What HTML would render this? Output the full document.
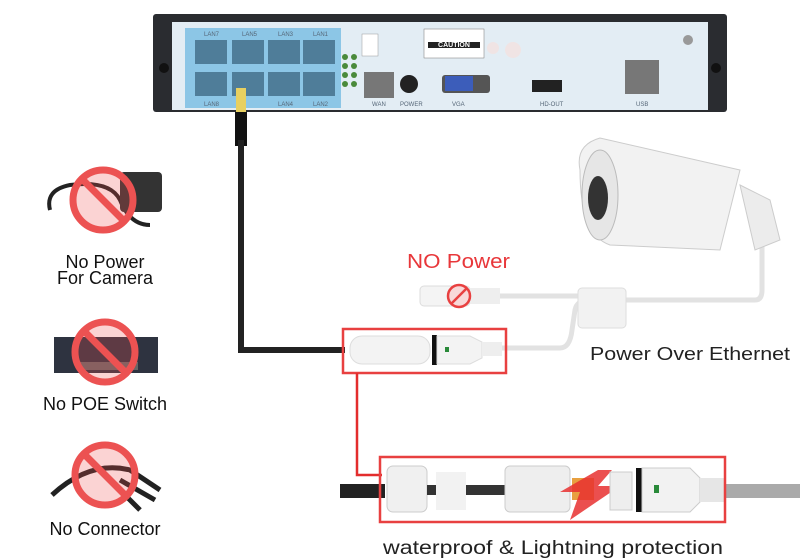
<!DOCTYPE html>
<html><head><meta charset="utf-8"><style>
html,body{margin:0;padding:0;background:#fff;}
svg{display:block;font-family:"Liberation Sans",sans-serif;}
</style></head><body>
<svg width="800" height="560" viewBox="0 0 800 560" xmlns="http://www.w3.org/2000/svg">
<!-- NVR -->
<rect x="153" y="14" width="574" height="98" rx="3" fill="#2a2c30"/>
<rect x="172" y="22" width="536" height="88" fill="#e3edf4"/>
<circle cx="164" cy="68" r="5" fill="#111"/><circle cx="716" cy="68" r="5" fill="#111"/>
<rect x="185" y="28" width="156" height="80" fill="#8cc6e6"/>
<g fill="#4f7d99">
<rect x="195" y="40" width="32" height="24"/><rect x="232" y="40" width="32" height="24"/>
<rect x="268" y="40" width="32" height="24"/><rect x="303" y="40" width="32" height="24"/>
<rect x="195" y="72" width="32" height="24"/><rect x="232" y="72" width="32" height="24"/>
<rect x="268" y="72" width="32" height="24"/><rect x="303" y="72" width="32" height="24"/>
</g>
<g font-size="6" fill="#567">
<text x="204" y="36">LAN7</text><text x="242" y="36">LAN5</text><text x="278" y="36">LAN3</text><text x="313" y="36">LAN1</text>
<text x="204" y="106">LAN8</text><text x="278" y="106">LAN4</text><text x="313" y="106">LAN2</text>
<text x="372" y="106">WAN</text><text x="400" y="106">POWER</text><text x="452" y="106">VGA</text>
<text x="540" y="106">HD-OUT</text><text x="636" y="106">USB</text>
</g>
<g fill="#4a8a3a"><circle cx="345" cy="57" r="3"/><circle cx="354" cy="57" r="3"/><circle cx="345" cy="66" r="3"/><circle cx="354" cy="66" r="3"/><circle cx="345" cy="75" r="3"/><circle cx="354" cy="75" r="3"/><circle cx="345" cy="84" r="3"/><circle cx="354" cy="84" r="3"/></g>
<rect x="362" y="34" width="16" height="22" fill="#fff" stroke="#999" stroke-width="0.5"/>
<rect x="364" y="72" width="30" height="26" fill="#777"/>
<circle cx="409" cy="84" r="9" fill="#222"/>
<rect x="424" y="29" width="60" height="29" fill="#fff" stroke="#777" stroke-width="0.5"/>
<rect x="428" y="42" width="52" height="6" fill="#222"/>
<text x="454" y="47" font-size="7" fill="#fff" text-anchor="middle" font-weight="bold">CAUTION</text>
<circle cx="493" cy="48" r="6" fill="#f0e4e4"/><circle cx="513" cy="50" r="8" fill="#f0e4e4"/>
<rect x="442" y="75" width="48" height="18" rx="3" fill="#555"/><rect x="445" y="76" width="28" height="15" fill="#3c5dba"/>
<rect x="532" y="80" width="30" height="12" fill="#222"/>
<rect x="625" y="60" width="34" height="34" fill="#777"/>
<circle cx="688" cy="40" r="5" fill="#999"/>
<!-- black cable -->
<rect x="236" y="88" width="10" height="28" fill="#e8d060"/>
<rect x="235" y="112" width="12" height="34" fill="#111"/>
<path d="M241 140 V350 H345" fill="none" stroke="#222" stroke-width="6"/>
<!-- white cables -->
<path d="M500 348 H560 Q570 348 572 330 L575 310 Q577 300 590 300 H755 Q762 300 762 290 V240" fill="none" stroke="#e2e2e2" stroke-width="5"/>
<path d="M500 296 H580" stroke="#e2e2e2" stroke-width="5"/>
<rect x="420" y="286" width="50" height="20" rx="4" fill="#f4f4f4" stroke="#ddd"/>
<rect x="470" y="288" width="30" height="16" fill="#eee"/>
<circle cx="459" cy="296" r="11" fill="#f8d8d8" stroke="#e84040" stroke-width="2.5"/>
<line x1="451" y1="304" x2="467" y2="288" stroke="#e84040" stroke-width="2.5"/>
<rect x="578" y="288" width="48" height="40" rx="4" fill="#f2f2f2" stroke="#ddd"/>
<text x="407" y="268" font-size="20" fill="#e8373a" textLength="103" lengthAdjust="spacingAndGlyphs">NO Power</text>
<!-- camera -->
<path d="M580 170 Q575 145 600 138 L740 170 L720 250 L610 245 Q580 235 580 170Z" fill="#f2f2f2" stroke="#ccc"/>
<ellipse cx="600" cy="195" rx="18" ry="45" fill="#e6e6e6" stroke="#bbb"/>
<ellipse cx="598" cy="198" rx="10" ry="22" fill="#333"/>
<path d="M740 185 L770 200 L780 240 L755 250 Z" fill="#ececec" stroke="#ccc"/>
<text x="590" y="360" font-size="18" fill="#222" textLength="200" lengthAdjust="spacingAndGlyphs">Power Over Ethernet</text>
<!-- injector top -->
<rect x="350" y="336" width="80" height="28" rx="12" fill="#f3f3f3" stroke="#ddd"/>
<rect x="432" y="335" width="5" height="30" fill="#111"/>
<path d="M437 336 H470 L482 342 V358 L470 364 H437Z" fill="#f3f3f3" stroke="#ddd"/>
<rect x="445" y="347" width="4" height="5" fill="#2a8a3a"/>
<rect x="482" y="342" width="20" height="14" fill="#eee"/>
<rect x="343" y="329" width="163" height="44" fill="none" stroke="#e84040" stroke-width="2.5"/>
<path d="M357 373 V475 H382" fill="none" stroke="#e32d2d" stroke-width="2.5"/>
<!-- bottom connector -->
<rect x="340" y="484" width="45" height="14" fill="#222"/>
<rect x="722" y="484" width="78" height="14" fill="#aaa"/>
<rect x="387" y="466" width="40" height="46" rx="6" fill="#f0f0f0" stroke="#ccc"/>
<rect x="427" y="485" width="80" height="10" fill="#333"/>
<rect x="436" y="472" width="30" height="38" fill="#f2f2f2"/>
<rect x="505" y="466" width="65" height="46" rx="5" fill="#eee" stroke="#ccc"/>
<rect x="572" y="478" width="22" height="22" fill="#e8a040"/>
<path d="M598 470 L560 492 L580 492 L570 520 L620 486 L598 486 L612 470Z" fill="#e83030" opacity="0.85"/>
<rect x="610" y="472" width="22" height="38" fill="#eee" stroke="#ccc"/>
<rect x="636" y="468" width="6" height="44" fill="#111"/>
<path d="M642 468 H690 L700 478 V502 L690 512 H642Z" fill="#f2f2f2" stroke="#ccc"/>
<rect x="654" y="485" width="5" height="8" fill="#2a8a3a"/>
<rect x="700" y="478" width="24" height="24" fill="#e6e6e6"/>
<rect x="380" y="457" width="345" height="65" fill="none" stroke="#e84040" stroke-width="2.5"/>
<text x="383" y="554" font-size="19" fill="#222" textLength="340" lengthAdjust="spacingAndGlyphs">waterproof &amp; Lightning protection</text>
<!-- left icons -->
<path d="M50 210 Q45 190 70 185 Q110 180 120 200 Q130 225 150 225" fill="none" stroke="#222" stroke-width="4"/>
<rect x="120" y="172" width="42" height="40" rx="4" fill="#333"/>
<circle cx="103" cy="200" r="30" fill="rgba(240,80,80,0.25)" stroke="#ec5252" stroke-width="7"/>
<line x1="82" y1="179" x2="124" y2="221" stroke="#ec5252" stroke-width="7"/>
<text x="105" y="268" font-size="18" text-anchor="middle" fill="#111">No Power</text>
<text x="105" y="284" font-size="18" text-anchor="middle" fill="#111">For Camera</text>
<rect x="54" y="337" width="104" height="36" fill="#2e3340"/>
<rect x="78" y="362" width="60" height="8" fill="#666"/>
<circle cx="105" cy="352" r="30" fill="rgba(240,80,80,0.25)" stroke="#ec5252" stroke-width="7"/>
<line x1="84" y1="331" x2="126" y2="373" stroke="#ec5252" stroke-width="7"/>
<text x="105" y="410" font-size="18" text-anchor="middle" fill="#111">No POE Switch</text>
<path d="M52 495 Q90 460 130 470 L160 490" fill="none" stroke="#222" stroke-width="5"/>
<path d="M110 480 L140 510 M120 480 L155 500" stroke="#222" stroke-width="5"/>
<circle cx="105" cy="475" r="30" fill="rgba(240,80,80,0.25)" stroke="#ec5252" stroke-width="7"/>
<line x1="84" y1="454" x2="126" y2="496" stroke="#ec5252" stroke-width="7"/>
<text x="105" y="535" font-size="18" text-anchor="middle" fill="#111">No Connector</text>
</svg>
</body></html>
